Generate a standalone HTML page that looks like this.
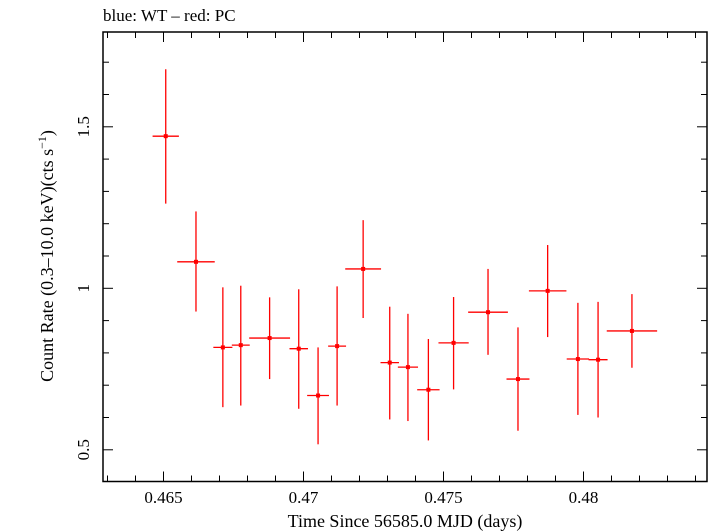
<!DOCTYPE html>
<html><head><meta charset="utf-8"><style>
html,body{margin:0;padding:0;background:#fff;}
svg{display:block;font-family:"Liberation Serif",serif;}
</style></head><body>
<svg id="chart" width="709" height="532" viewBox="0 0 709 532">
<text x="103" y="21" font-size="17">blue: WT – red: PC</text>
<rect x="103" y="32" width="604" height="449.5" fill="none" stroke="#000" stroke-width="1.5"/>
<g id="axes"></g>
<g id="marks"></g>
<text x="405" y="527" font-size="18" text-anchor="middle">Time Since 56585.0 MJD (days)</text>
<text transform="translate(53,256) rotate(-90)" font-size="18" text-anchor="middle">Count Rate (0.3–10.0 keV)(cts s<tspan dy="-7" font-size="12">−1</tspan><tspan dy="7">)</tspan></text>
</svg>
<script>
const times=[0.46508,0.46616,0.46712,0.46776,0.46879,0.46983,0.47052,0.4712,0.47213,0.47308,0.47373,0.47446,0.47536,0.47659,0.47766,0.47872,0.4798,0.48052,0.48173];
const timeErr=[0.00047,0.00067,0.00034,0.00032,0.00073,0.00033,0.00039,0.00032,0.00064,0.00033,0.00036,0.0004,0.00054,0.00071,0.00041,0.00067,0.0004,0.00034,0.0009];
const rates=[1.471,1.082,0.817,0.824,0.846,0.813,0.668,0.821,1.060,0.770,0.756,0.686,0.831,0.926,0.719,0.992,0.781,0.779,0.868];
const rateHi=[1.678,1.238,1.003,1.008,0.972,0.997,0.817,1.006,1.211,0.943,0.921,0.843,0.973,1.060,0.879,1.134,0.955,0.958,0.982];
const rateLo=[1.262,0.928,0.632,0.637,0.719,0.627,0.517,0.637,0.908,0.594,0.589,0.529,0.687,0.794,0.559,0.849,0.608,0.600,0.754];
const xTickLabels=["0.465","0.47","0.475","0.48"];
const xTickValues=[0.465,0.47,0.475,0.48];
const yTickLabels=["0.5","1","1.5"];
const yTickValues=[0.5,1,1.5];

const NS="http://www.w3.org/2000/svg";
const X0=103,X1=707,Y0=32,Y1=481.5;
function xs(t){return 163.5+(t-0.465)*28000;}
function ys(v){return 288.3-(v-1)*323;}
const axes=document.getElementById('axes');
const marks=document.getElementById('marks');
function mk(tag,attrs,parent){const e=document.createElementNS(NS,tag);for(const k in attrs)e.setAttribute(k,attrs[k]);parent.appendChild(e);return e;}

// x minor/major ticks
for(let i=-2;i<=21;i++){
  const t=0.465+i*0.001;const x=xs(t);
  if(x<X0+1||x>X1-1)continue;
  const major=(i%5===0);const L=major?10:6;
  const a=mk('line',{x1:x,x2:x,y1:Y1,y2:Y1-L,stroke:'#000','stroke-width':1},axes);
  
  
  const b=mk('line',{x1:x,x2:x,y1:Y0,y2:Y0+L,stroke:'#000','stroke-width':1},axes);
  
  
}
for(let i=0;i<=14;i++){
  const v=0.4+i*0.1;const y=ys(v);
  if(y<Y0+1||y>Y1-1)continue;
  const major=Math.abs(v*2-Math.round(v*2))<1e-6;const L=major?10:6;
  const a=mk('line',{x1:X0,x2:X0+L,y1:y,y2:y,stroke:'#000','stroke-width':1},axes);
  
  
  const b=mk('line',{x1:X1,x2:X1-L,y1:y,y2:y,stroke:'#000','stroke-width':1},axes);
  
  
}
xTickLabels.forEach((lab,i)=>{
  const t=mk('text',{x:xs(xTickValues[i]),y:503,'font-size':17,'text-anchor':'middle'},axes);
  t.textContent=lab;
  
  
});
yTickLabels.forEach((lab,i)=>{
  const y=ys(yTickValues[i]);
  const t=mk('text',{transform:`translate(89,${y}) rotate(-90)`,'font-size':17,'text-anchor':'middle'},axes);
  t.textContent=lab;
  
  
});
times.forEach((t,i)=>{
  const g=mk('g',{},marks);
  
  
  mk('line',{x1:xs(t-timeErr[i]),x2:xs(t+timeErr[i]),y1:ys(rates[i]),y2:ys(rates[i]),stroke:'#f00','stroke-width':1.3},g);
  mk('line',{x1:xs(t),x2:xs(t),y1:ys(rateHi[i]),y2:ys(rateLo[i]),stroke:'#f00','stroke-width':1.3},g);
  mk('rect',{x:xs(t)-2,y:ys(rates[i])-2,width:4,height:4,fill:'#f00'},g);
});
</script>
</body></html>
